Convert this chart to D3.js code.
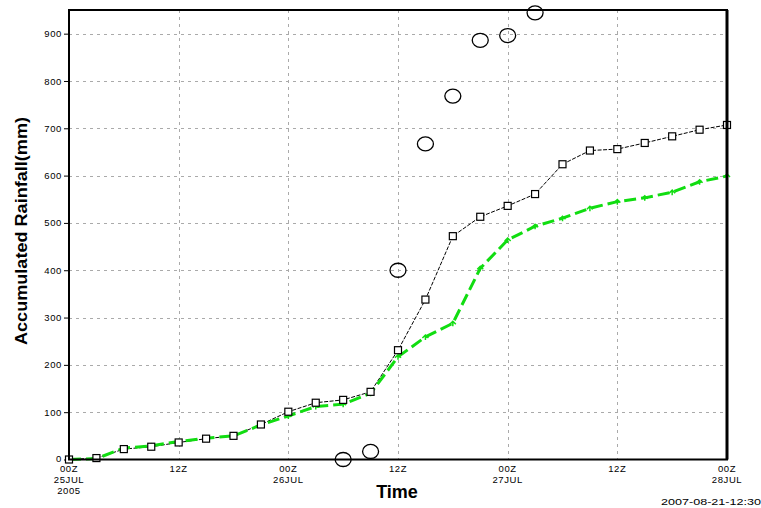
<!DOCTYPE html>
<html>
<head>
<meta charset="utf-8">
<script src="https://d3js.org/d3.v7.min.js"></script>
<style>
  html, body { margin: 0; padding: 0; background: #fff; }
  svg { display: block; font-family: "Liberation Sans", Arial, sans-serif; }
</style>
</head>
<body>
<div id="chart"></div>
<script>
// ---- data ----
const hours = [0,3,6,9,12,15,18,21,24,27,30,33,36,39,42,45,48,51,54,57,60,63,66,69,72];
const modelRain = [0,3,22,27,36,44,50,74,101,120,126,143,231,338,472,513,536,561,624,653,656,669,683,697,707];
const greenRain = [0,2,24,29,38,45,50,73,92,112,117,140,217,259,288,404,464,493,510,531,545,553,565,587,599];
const obsHours = [30,33,36,39,42,45,48,51];
const obsRain = [0,17,400,667,768,886,896,944];
const yTicks = [0,100,200,300,400,500,600,700,800,900];
const xTicks = [0,12,24,36,48,60,72];
const xTickLine1 = ["00Z","12Z","00Z","12Z","00Z","12Z","00Z"];
const xTickLine2 = ["25JUL","","26JUL","","27JUL","","28JUL"];
const xTickLine3 = ["2005","","","","","",""];
const yTitle = "Accumulated Rainfall(mm)";
const xTitle = "Time";
const stamp = "2007-08-21-12:30";

// ---- layout ----
const W = 761, H = 508;
const L = 69, R = 727, T = 10, B = 459.5;

const svg = d3.select("#chart").append("svg").attr("width", W).attr("height", H);
svg.append("rect").attr("width", W).attr("height", H).attr("fill", "#fff");

const x = d3.scaleLinear().domain([0, 72]).range([L, R]);
const y = d3.scaleLinear().domain([0, 950]).range([B, T]);

// grid
const grid = svg.append("g").attr("stroke", "#aaa").attr("stroke-width", 1).attr("stroke-dasharray", "3,4");
grid.selectAll("line.h").data(yTicks.filter(d => d > 0)).join("line")
  .attr("x1", L).attr("x2", R).attr("y1", d => Math.round(y(d)) + 0.5).attr("y2", d => Math.round(y(d)) + 0.5);
grid.selectAll("line.v").data(xTicks.filter(d => d > 0 && d < 72)).join("line")
  .attr("y1", T).attr("y2", B).attr("x1", d => Math.round(x(d)) + 0.5).attr("x2", d => Math.round(x(d)) + 0.5);

// y axis
const yAxis = d3.axisLeft(y).tickValues(yTicks).tickSize(5).tickPadding(2).tickFormat(d3.format("d"));
const ya = svg.append("g").attr("transform", `translate(${L},0)`).call(yAxis);
ya.select(".domain").remove();
ya.selectAll("text").attr("font-size", 9.5).attr("letter-spacing", "0.6px").attr("fill", "#000")
  .attr("dy", d => d === 0 ? "0.2em" : "0.32em");
ya.selectAll("line").attr("stroke", "#000");

// x axis
const xAxis = d3.axisBottom(x).tickValues(xTicks).tickSize(0).tickFormat("");
const xa = svg.append("g").attr("transform", `translate(0,${B})`).call(xAxis);
xa.select(".domain").remove();
const xl = svg.append("g").attr("font-size", 9.5).attr("text-anchor", "middle").attr("fill", "#000").attr("letter-spacing", "0.6px");
xTicks.forEach((t, i) => {
  xl.append("text").attr("x", x(t)).attr("y", 471.5).text(xTickLine1[i]);
  if (xTickLine2[i]) xl.append("text").attr("x", x(t)).attr("y", 483).text(xTickLine2[i]);
  if (xTickLine3[i]) xl.append("text").attr("x", x(t)).attr("y", 493.5).text(xTickLine3[i]);
});

// model line (black with squares)
const lineModel = d3.line().x((d, i) => x(hours[i])).y(d => y(d));
svg.append("path").datum(modelRain).attr("d", lineModel)
  .attr("fill", "none").attr("stroke", "#000").attr("stroke-width", 1).attr("stroke-dasharray", "4,1.5");

// green dashed line
const lineGreen = d3.line().x((d, i) => x(hours[i])).y(d => y(d));
svg.append("path").datum(greenRain).attr("d", lineGreen)
  .attr("fill", "none").attr("stroke", "#11dd11").attr("stroke-width", 3).attr("stroke-dasharray", "12,5");
svg.append("g").selectAll("path").data(greenRain).join("path")
  .attr("d", (d, i) => {
    const cx = x(hours[i]), cy = y(d);
    return `M${cx - 3},${cy + 1}L${cx},${cy - 2}L${cx + 3},${cy + 1}M${cx},${cy - 2}L${cx},${cy + 3}`;
  })
  .attr("fill", "none").attr("stroke", "#11dd11").attr("stroke-width", 1.5);

// squares
svg.append("g").selectAll("rect").data(modelRain).join("rect")
  .attr("x", (d, i) => x(hours[i]) - 3.5).attr("y", d => y(d) - 3.5)
  .attr("width", 7).attr("height", 7)
  .attr("fill", "#fff").attr("stroke", "#000").attr("stroke-width", 1.2);

// observation ellipses
svg.append("g").selectAll("ellipse").data(obsRain).join("ellipse")
  .attr("cx", (d, i) => x(obsHours[i])).attr("cy", d => y(d))
  .attr("rx", 8).attr("ry", 7)
  .attr("fill", "none").attr("stroke", "#000").attr("stroke-width", 1.3);

// frame
svg.append("rect").attr("x", L).attr("y", T).attr("width", R - L).attr("height", B - T)
  .attr("fill", "none").attr("stroke", "#000").attr("stroke-width", 2);
svg.append("line").attr("x1", R).attr("x2", R).attr("y1", T).attr("y2", B)
  .attr("stroke", "#000").attr("stroke-width", 3);

// titles
svg.append("text").attr("transform", `translate(27,231) rotate(-90)`)
  .attr("text-anchor", "middle").attr("font-size", 16).attr("font-weight", "bold")
  .attr("textLength", 228).attr("lengthAdjust", "spacingAndGlyphs").text(yTitle);
svg.append("text").attr("x", 397).attr("y", 498)
  .attr("text-anchor", "middle").attr("font-size", 18).attr("font-weight", "bold")
  .text(xTitle);
svg.append("text").attr("x", 661).attr("y", 505)
  .attr("font-size", 9).attr("textLength", 100).attr("lengthAdjust", "spacingAndGlyphs").text(stamp);
</script>
</body>
</html>
